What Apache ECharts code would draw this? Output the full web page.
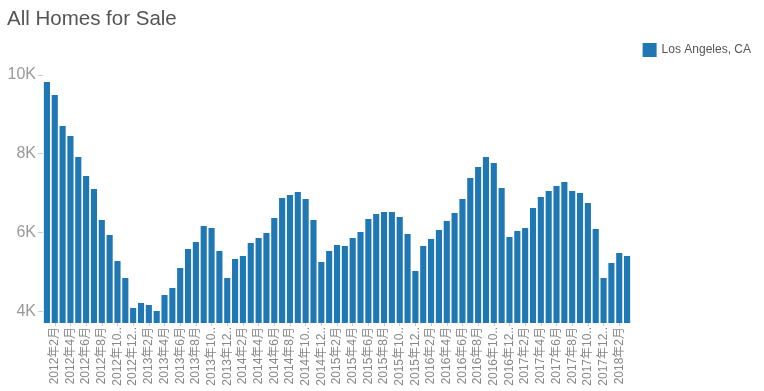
<!DOCTYPE html>
<html>
<head>
<meta charset="utf-8">
<script src="https://cdn.jsdelivr.net/npm/echarts@6/dist/echarts.min.js"></script>
<style>
html,body{margin:0;padding:0;background:#fff;}
#chart{width:764px;height:391px;}
</style>
</head>
<body>
<div id="chart"></div>
<script>
const title = "All Homes for Sale";
const seriesName = "Los Angeles, CA";
const years = [2012, 2013, 2014, 2015, 2016, 2017, 2018];
const categories = [];
years.forEach(function (y) {
  for (let m = 1; m <= 12; m++) {
    if (y === 2018 && m > 3) break;
    categories.push(y + "年" + m + "月");
  }
});
const values = [
  9822, 9492, 8705, 8450, 7917, 7435, 7104, 6317, 5936, 5276, 4844, 4082,
  4209, 4158, 4006, 4412, 4590, 5098, 5580, 5758, 6165, 6114, 5530, 4844,
  5326, 5403, 5733, 5860, 5987, 6368, 6876, 6952, 7028, 6850, 6317, 5250,
  5530, 5682, 5657, 5860, 6012, 6342, 6469, 6520, 6520, 6393, 5962, 5022,
  5657, 5835, 6063, 6292, 6495, 6850, 7384, 7663, 7917, 7765, 7130, 5885,
  6038, 6114, 6622, 6901, 7053, 7180, 7282, 7053, 7002, 6749, 6088, 4844,
  5225, 5479, 5403
];
const yTicks = [4000, 6000, 8000, 10000];

const chart = echarts.init(document.getElementById('chart'));
chart.setOption({
  animation: false,
  title: {
    text: title, left: 2, top: 4,
    textStyle: { fontFamily: 'Liberation Sans, Arial, sans-serif', fontSize: 20.5, fontWeight: 'normal', color: '#555' }
  },
  legend: {
    right: 8, top: 38, itemWidth: 14, itemHeight: 14, icon: 'rect', itemGap: 6,
    textStyle: { fontFamily: 'Liberation Sans, Arial, sans-serif', fontSize: 12, color: '#555' },
    data: [seriesName]
  },
  grid: { left: 43, right: 133, top: 75, bottom: 68, containLabel: false, outerBoundsMode: 'none' },
  xAxis: {
    type: 'category', data: categories,
    axisLine: { show: false },
    axisTick: { show: true, alignWithLabel: true, interval: function (i) { return i % 2 === 1; }, length: 3, lineStyle: { color: '#ccc' } },
    axisLabel: {
      interval: function (i) { return i % 2 === 1; },
      rotate: 90, fontSize: 12, color: '#888', margin: 4,
      fontFamily: 'Liberation Sans, Arial, Noto Sans CJK SC, sans-serif',
      formatter: function (v) { return v.length > 7 ? v.slice(0, 7) + '..' : v; }
    }
  },
  yAxis: {
    type: 'value', min: 3700, max: 10000,
    splitLine: { show: false },
    axisLine: { show: false },
    axisTick: { show: true, length: 5, lineStyle: { color: '#ccc' }, customValues: yTicks },
    axisLabel: {
      customValues: yTicks, fontSize: 16, color: '#999', margin: 7,
      fontFamily: 'Liberation Sans, Arial, sans-serif',
      formatter: function (v) { return (v / 1000) + 'K'; }
    }
  },
  series: [{
    name: seriesName, type: 'bar', data: values,
    barCategoryGap: '22%',
    itemStyle: { color: '#1f77b4' }
  }]
});
</script>
</body>
</html>
